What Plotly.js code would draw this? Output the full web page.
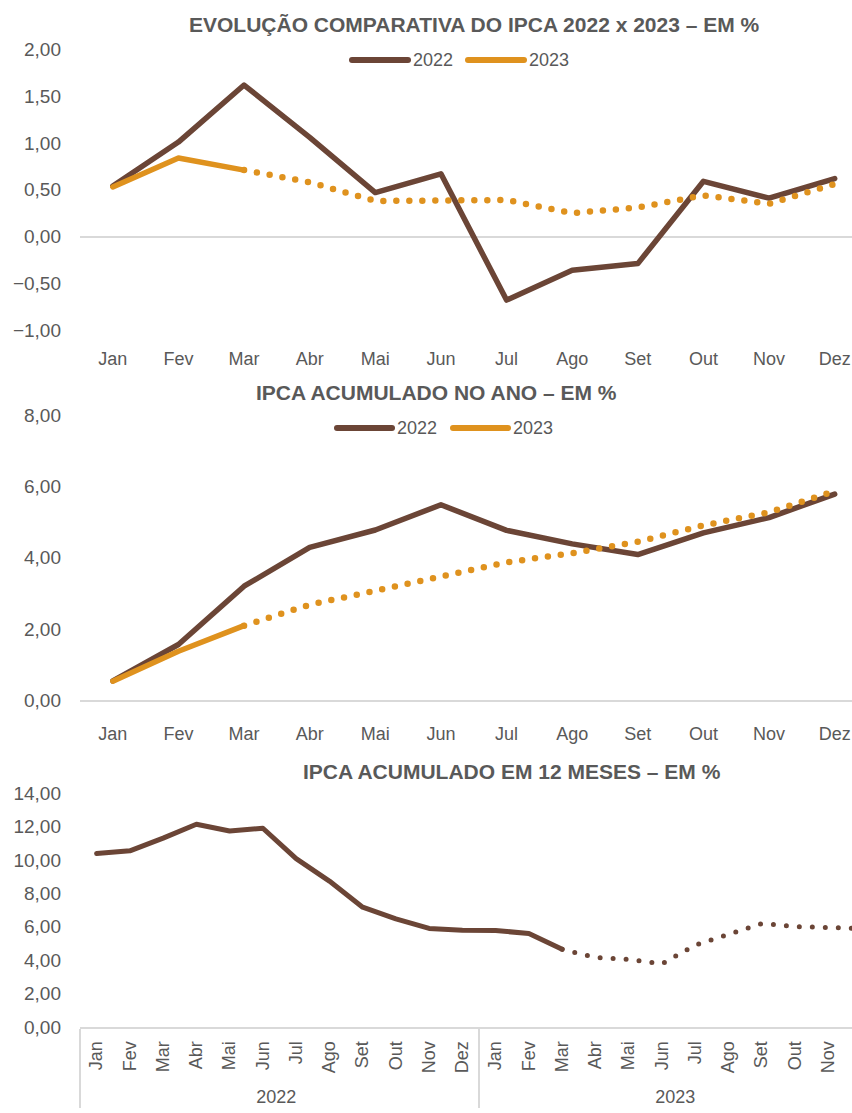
<!DOCTYPE html>
<html>
<head>
<meta charset="utf-8">
<script src="https://cdn.plot.ly/plotly-3.0.1.min.js"></script>
<style>
  html, body { margin: 0; padding: 0; overflow: hidden; background: #fff; }
  #chart { width: 878px; height: 1113px; }
  .scatterlayer .js-line { stroke-linecap: round !important; stroke-linejoin: round !important; }
  .shapelayer path { stroke-linecap: round !important; }
</style>
</head>
<body>
<div id="chart"></div>
<script>
// ---------------- DATA ----------------
const months = ['Jan','Fev','Mar','Abr','Mai','Jun','Jul','Ago','Set','Out','Nov','Dez'];
const seriesNames = ['2022', '2023'];
// IPCA mensal (%)
const mensal2022 = [0.54, 1.01, 1.62, 1.06, 0.47, 0.67, -0.68, -0.36, -0.29, 0.59, 0.41, 0.62];
const mensal2023 = [0.53, 0.84, 0.71, 0.58, 0.38, 0.39, 0.39, 0.25, 0.31, 0.44, 0.35, 0.56];
// IPCA acumulado no ano (%)
const acumAno2022 = [0.54, 1.56, 3.20, 4.29, 4.78, 5.49, 4.77, 4.39, 4.09, 4.70, 5.13, 5.79];
const acumAno2023 = [0.53, 1.37, 2.09, 2.68, 3.07, 3.47, 3.87, 4.13, 4.45, 4.91, 5.28, 5.87];
// IPCA acumulado em 12 meses (%)
const acum12m2022 = [10.38, 10.54, 11.30, 12.13, 11.73, 11.89, 10.07, 8.73, 7.17, 6.47, 5.90, 5.79];
const acum12m2023 = [5.77, 5.60, 4.65, 4.16, 4.05, 3.78, 4.90, 5.55, 6.19, 6.01, 5.95, 5.89];
// months of 2023 already realized (rest is projection, drawn dotted)
const realized2023 = 3;

const titles = [
  'EVOLUÇÃO COMPARATIVA DO IPCA 2022 x 2023 – EM %',
  'IPCA ACUMULADO NO ANO – EM %',
  'IPCA ACUMULADO EM 12 MESES – EM %'
];

// ---------------- STYLE ----------------
const BROWN = '#6B4536';
const ORANGE = '#DF921E';
const GRAY_TXT = '#595959';
const AXIS_GRAY = '#D9D9D9';
const FONT = 'Liberation Sans, Arial, sans-serif';
const W = 878, H = 1113, ML = 80;
const px = x => (x - ML) / (W - ML);
const py = y => (H - y) / H;
const DOT = '0px,13px';

const traces = [];
// chart 1
traces.push({x: months, y: mensal2022, xaxis: 'x', yaxis: 'y', mode: 'lines',
  line: {color: BROWN, width: 5.5}});
traces.push({x: months.slice(0, realized2023), y: mensal2023.slice(0, realized2023), xaxis: 'x', yaxis: 'y',
  mode: 'lines', line: {color: ORANGE, width: 5.5}});
traces.push({x: months.slice(realized2023 - 1), y: mensal2023.slice(realized2023 - 1), xaxis: 'x', yaxis: 'y',
  mode: 'lines', line: {color: ORANGE, width: 6.5, dash: DOT}});
// chart 2
traces.push({x: months, y: acumAno2022, xaxis: 'x2', yaxis: 'y2', mode: 'lines',
  line: {color: BROWN, width: 5.5}});
traces.push({x: months.slice(0, realized2023), y: acumAno2023.slice(0, realized2023), xaxis: 'x2', yaxis: 'y2',
  mode: 'lines', line: {color: ORANGE, width: 5.5}});
traces.push({x: months.slice(realized2023 - 1), y: acumAno2023.slice(realized2023 - 1), xaxis: 'x2', yaxis: 'y2',
  mode: 'lines', line: {color: ORANGE, width: 6.5, dash: DOT}});
// chart 3 (multicategory)
const years24 = months.map(() => seriesNames[0]).concat(months.map(() => seriesNames[1]));
const months24 = months.concat(months);
const vals24 = acum12m2022.concat(acum12m2023);
const split = months.length + realized2023; // points drawn solid
traces.push({x: [years24.slice(0, split), months24.slice(0, split)], y: vals24.slice(0, split),
  xaxis: 'x3', yaxis: 'y3', mode: 'lines', line: {color: BROWN, width: 5}});
traces.push({x: [years24.slice(split - 1), months24.slice(split - 1)], y: vals24.slice(split - 1),
  xaxis: 'x3', yaxis: 'y3', mode: 'lines', line: {color: BROWN, width: 5, dash: DOT}});

traces.forEach(t => { t.showlegend = false; t.hoverinfo = 'skip'; });

const yCommon = {
  showgrid: false, zeroline: false, showline: false, ticks: '',
  tickformat: '.2f', tickfont: {size: 19, color: GRAY_TXT, family: FONT},
  ticklabelstandoff: 18, fixedrange: true
};
const xCommon = {
  type: 'category', showgrid: false, zeroline: false, ticks: '',
  tickfont: {size: 18, color: GRAY_TXT, family: FONT}, fixedrange: true
};
const dom12 = [0, 787.5 / (W - ML)];

const layout = {
  width: W, height: H,
  margin: {l: ML, r: 0, t: 0, b: 0, pad: 0},
  paper_bgcolor: '#fff', plot_bgcolor: 'rgba(0,0,0,0)',
  separators: ',.',
  font: {family: FONT, color: GRAY_TXT},
  showlegend: false,
  xaxis: Object.assign({}, xCommon, {domain: dom12, anchor: 'y', showline: false, range: [-0.5, 11.5], ticklabelstandoff: 16}),
  yaxis: Object.assign({}, yCommon, {domain: [py(330), py(49.5)], anchor: 'x', range: [-1, 2], dtick: 0.5,
    zeroline: true, zerolinecolor: AXIS_GRAY, zerolinewidth: 2}),
  xaxis2: Object.assign({}, xCommon, {domain: dom12, anchor: 'y2', showline: true, linecolor: AXIS_GRAY, linewidth: 2,
    range: [-0.5, 11.5], ticklabelstandoff: 16}),
  yaxis2: Object.assign({}, yCommon, {domain: [py(700), py(415.5)], anchor: 'x2', range: [0, 8], dtick: 2}),
  xaxis3: Object.assign({}, xCommon, {type: 'multicategory', domain: [0, 1], anchor: 'y3', showline: true,
    linecolor: AXIS_GRAY, linewidth: 2, range: [-0.5, 23.5], tickangle: -90,
    showdividers: true, dividercolor: AXIS_GRAY, dividerwidth: 2, ticklabelstandoff: 5}),
  yaxis3: Object.assign({}, yCommon, {domain: [py(1027), py(793)], anchor: 'x3', range: [0, 14], dtick: 2}),
  annotations: [
    {text: '<b>' + titles[0] + '</b>', x: px(474), y: py(24)},
    {text: '<b>' + titles[1] + '</b>', x: px(436), y: py(392)},
    {text: '<b>' + titles[2] + '</b>', x: px(512), y: py(771)}
  ].map(a => Object.assign(a, {xref: 'paper', yref: 'paper', xanchor: 'center', yanchor: 'middle',
    showarrow: false, font: {size: 21, color: GRAY_TXT, family: FONT}})),
  shapes: []
};

// manual legends (line sample + label)
const legends = [
  {y: 60, items: [{x0: 352, x1: 408, tx: 411, color: BROWN, name: seriesNames[0]},
                  {x0: 468, x1: 524, tx: 527, color: ORANGE, name: seriesNames[1]}]},
  {y: 428, items: [{x0: 337, x1: 392, tx: 395, color: BROWN, name: seriesNames[0]},
                   {x0: 453, x1: 508, tx: 511, color: ORANGE, name: seriesNames[1]}]}
];
legends.forEach(lg => lg.items.forEach(it => {
  layout.shapes.push({type: 'line', xref: 'paper', yref: 'paper', x0: px(it.x0), x1: px(it.x1),
    y0: py(lg.y), y1: py(lg.y), line: {color: it.color, width: 6}});
  layout.annotations.push({text: it.name, xref: 'paper', yref: 'paper', x: px(it.tx), y: py(lg.y),
    xanchor: 'left', yanchor: 'middle', showarrow: false, font: {size: 18, color: GRAY_TXT, family: FONT}});
}));

Plotly.newPlot('chart', traces, layout, {displayModeBar: false, staticPlot: true});
</script>
</body>
</html>
